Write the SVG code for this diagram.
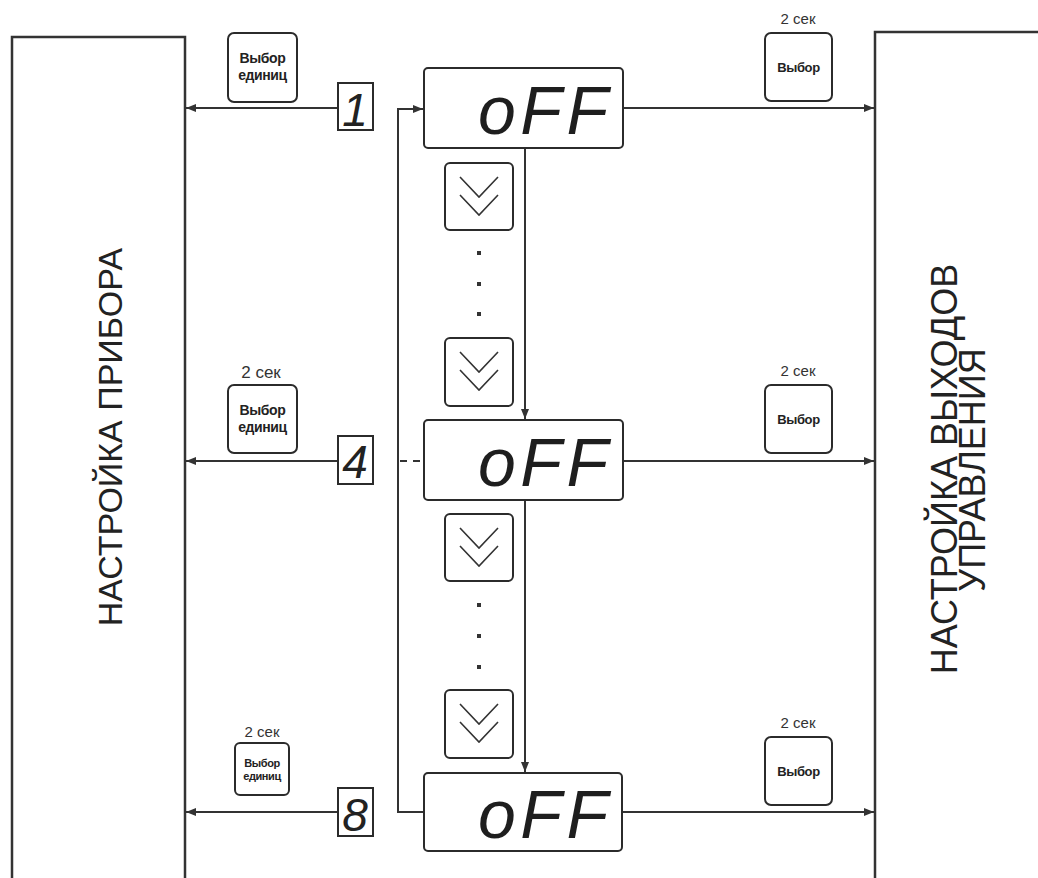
<svg xmlns="http://www.w3.org/2000/svg" width="1038" height="878" viewBox="0 0 1038 878">
<defs>
<style>
.box{fill:#fff;stroke:#333;stroke-width:2.5}
.disp{fill:#fff;stroke:#2b2b2b;stroke-width:2}
.btn{fill:#fff;stroke:#2b2b2b;stroke-width:2}
.num{fill:#fff;stroke:#2b2b2b;stroke-width:2}
.ln{fill:none;stroke:#333;stroke-width:2}
.chev{fill:none;stroke:#333;stroke-width:1.6}
.big{font-family:"Liberation Sans",Arial,sans-serif;fill:#222}
.bt{font-family:"Liberation Sans",Arial,sans-serif;font-weight:bold;fill:#222;text-anchor:middle;letter-spacing:-0.4px}
.sec{font-family:"Liberation Sans",Arial,sans-serif;fill:#333;text-anchor:middle}
.dig{font-family:"Liberation Sans",Arial,sans-serif;font-style:italic;fill:#222;text-anchor:middle}
.off{font-family:"Liberation Sans",Arial,sans-serif;font-style:italic;fill:#1e1e1e;font-size:68px}
.dot{fill:#333}
</style>
<marker id="ah" viewBox="0 0 10 8" refX="10" refY="4" markerWidth="10" markerHeight="8" markerUnits="userSpaceOnUse" orient="auto">
<path d="M0,0 L10,4 L0,8 Z" fill="#333"/>
</marker>
<g id="chevrons">
<polyline class="chev" points="15,14 34,34 53,14"/>
<polyline class="chev" points="15,32 34,52 53,32"/>
</g>
</defs>
<rect width="1038" height="878" fill="#fff"/>

<g id="left-block">
<rect class="box" x="12" y="37" width="173" height="860"/>
<text class="big" font-size="34" text-anchor="middle" transform="translate(122,437) rotate(-90)">НАСТРОЙКА ПРИБОРА</text>
</g>

<g id="right-block">
<rect class="box" x="875" y="32" width="200" height="870"/>
<text class="big" font-size="36" text-anchor="middle" transform="translate(957,469) rotate(-90)">НАСТРОЙКА ВЫХОДОВ</text>
<text class="big" font-size="36" text-anchor="middle" transform="translate(985,470) rotate(-90)">УПРАВЛЕНИЯ</text>
</g>

<g id="connectors">
<line class="ln" x1="338" y1="108" x2="186" y2="108" marker-end="url(#ah)"/>
<line class="ln" x1="338" y1="461" x2="186" y2="461" marker-end="url(#ah)"/>
<line class="ln" x1="338" y1="812" x2="186" y2="812" marker-end="url(#ah)"/>
<polyline class="ln" points="424,812 398,812 398,109 423,109" marker-end="url(#ah)"/>
<line class="ln" x1="400" y1="461" x2="423" y2="461" stroke-dasharray="7,6"/>
<line class="ln" x1="525" y1="148" x2="525" y2="419" marker-end="url(#ah)"/>
<line class="ln" x1="525" y1="500" x2="525" y2="772" marker-end="url(#ah)"/>
<line class="ln" x1="623" y1="108" x2="874" y2="108" marker-end="url(#ah)"/>
<line class="ln" x1="623" y1="461" x2="874" y2="461" marker-end="url(#ah)"/>
<line class="ln" x1="622" y1="812" x2="874" y2="812" marker-end="url(#ah)"/>
</g>

<g id="display-1">
<rect class="disp" x="424" y="68" width="199" height="80" rx="4"/>
<text class="off" x="478" y="134" textLength="130" lengthAdjust="spacing">oFF</text>
</g>
<g id="display-2">
<rect class="disp" x="424" y="420" width="199" height="80" rx="4"/>
<text class="off" x="478" y="486" textLength="130" lengthAdjust="spacing">oFF</text>
</g>
<g id="display-3">
<rect class="disp" x="424" y="773" width="198" height="78" rx="4"/>
<text class="off" x="478" y="838" textLength="130" lengthAdjust="spacing">oFF</text>
</g>

<g id="num-1">
<rect class="num" x="338" y="83" width="35" height="47"/>
<text class="dig" x="355" y="126" font-size="46">1</text>
</g>
<g id="num-4">
<rect class="num" x="338" y="436" width="35" height="48"/>
<text class="dig" x="355" y="478" font-size="46">4</text>
</g>
<g id="num-8">
<rect class="num" x="338" y="788" width="35" height="48"/>
<text class="dig" x="355" y="831" font-size="46">8</text>
</g>

<g id="btn-units-1">
<rect class="btn" x="228" y="33" width="69" height="69" rx="6"/>
<text class="bt" x="262.5" y="63" font-size="14">Выбор</text>
<text class="bt" x="262.5" y="80" font-size="14">единиц</text>
</g>
<g id="btn-units-4">
<text class="sec" x="261" y="378" font-size="17">2 сек</text>
<rect class="btn" x="228" y="385" width="69" height="68" rx="6"/>
<text class="bt" x="262.5" y="415" font-size="14">Выбор</text>
<text class="bt" x="262.5" y="432" font-size="14">единиц</text>
</g>
<g id="btn-units-8">
<text class="sec" x="262" y="737" font-size="15">2 сек</text>
<rect class="btn" x="235" y="743" width="54" height="52" rx="5"/>
<text class="bt" x="262" y="767" font-size="11">Выбор</text>
<text class="bt" x="262" y="780" font-size="11">единиц</text>
</g>

<g id="btn-select-1">
<text class="sec" x="798" y="24" font-size="15">2 сек</text>
<rect class="btn" x="765" y="33" width="67" height="68" rx="6"/>
<text class="bt" x="798.5" y="72" font-size="13">Выбор</text>
</g>
<g id="btn-select-4">
<text class="sec" x="798" y="376" font-size="15">2 сек</text>
<rect class="btn" x="765" y="385" width="67" height="68" rx="6"/>
<text class="bt" x="798.5" y="424" font-size="13">Выбор</text>
</g>
<g id="btn-select-8">
<text class="sec" x="798" y="728" font-size="15">2 сек</text>
<rect class="btn" x="765" y="737" width="67" height="68" rx="6"/>
<text class="bt" x="798.5" y="776" font-size="13">Выбор</text>
</g>

<g id="down-1a">
<rect class="btn" x="445" y="163" width="68" height="67" rx="5"/>
<use href="#chevrons" x="445" y="163"/>
</g>
<g id="dots-1">
<rect class="dot" x="477" y="251" width="4" height="4"/>
<rect class="dot" x="477" y="282" width="4" height="4"/>
<rect class="dot" x="477" y="312" width="4" height="4"/>
</g>
<g id="down-1b">
<rect class="btn" x="445" y="338" width="68" height="68" rx="5"/>
<use href="#chevrons" x="445" y="338"/>
</g>
<g id="down-2a">
<rect class="btn" x="445" y="514" width="68" height="67" rx="5"/>
<use href="#chevrons" x="445" y="514"/>
</g>
<g id="dots-2">
<rect class="dot" x="477" y="603" width="4" height="4"/>
<rect class="dot" x="477" y="634" width="4" height="4"/>
<rect class="dot" x="477" y="665" width="4" height="4"/>
</g>
<g id="down-2b">
<rect class="btn" x="445" y="690" width="68" height="68" rx="5"/>
<use href="#chevrons" x="445" y="690"/>
</g>
</svg>
